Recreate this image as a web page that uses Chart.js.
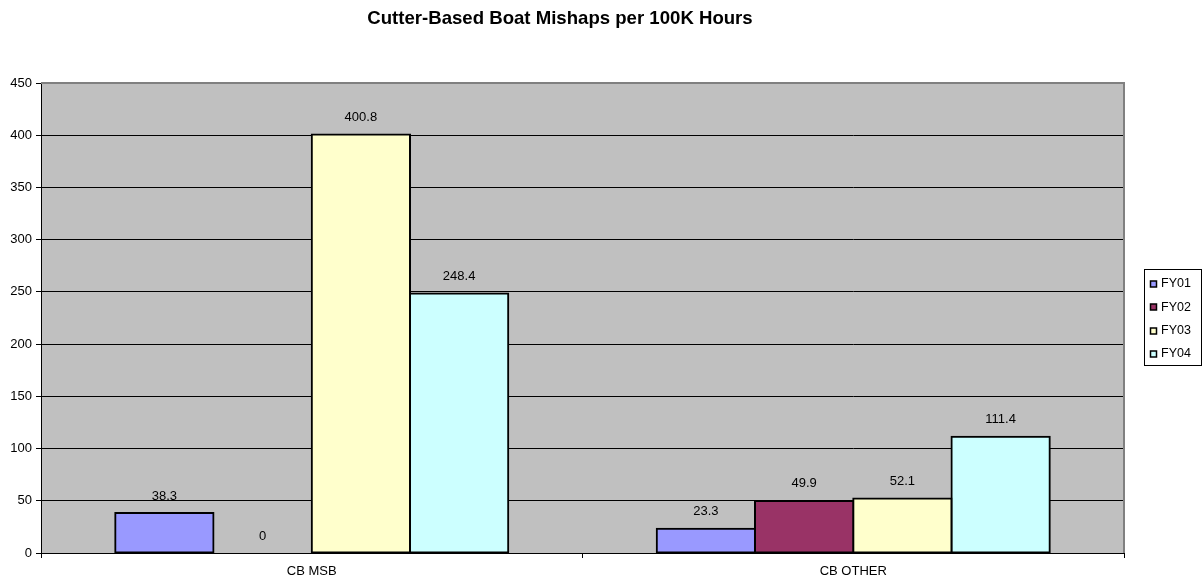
<!DOCTYPE html>
<html>
<head>
<meta charset="utf-8">
<script src="https://cdn.jsdelivr.net/npm/chart.js@4/dist/chart.umd.min.js"></script>
<style>
  html, body { margin: 0; padding: 0; background: #ffffff; }
  #wrap { width: 1202px; height: 582px; }
</style>
</head>
<body>
<div id="wrap"><canvas id="c" width="1202" height="582"></canvas></div>
<script>
const chartTitle = 'Cutter-Based Boat Mishaps per 100K Hours';
const categories = ['CB MSB', 'CB OTHER'];
const seriesNames = ['FY01', 'FY02', 'FY03', 'FY04'];
const fy01 = [38.3, 23.3];
const fy02 = [0, 49.9];
const fy03 = [400.8, 52.1];
const fy04 = [248.4, 111.4];
const seriesColors = ['#9999FF', '#993366', '#FFFFCC', '#CCFFFF'];
const yMin = 0, yMax = 450, yStep = 50;

const FONT = '"Liberation Sans", Arial, sans-serif';
const seriesValues = [fy01, fy02, fy03, fy04];

// Gray plot background plus the light frame on the top and right edges
const plotFrame = {
  id: 'plotFrame',
  beforeDraw(chart) {
    const a = chart.chartArea, ctx = chart.ctx;
    ctx.save();
    ctx.fillStyle = '#C0C0C0';
    ctx.fillRect(a.left, a.top, a.right - a.left, a.bottom - a.top);
    ctx.restore();
  },
  afterDatasetsDraw(chart) {
    const a = chart.chartArea, ctx = chart.ctx;
    ctx.save();
    ctx.strokeStyle = '#808080';
    ctx.lineWidth = 2;
    ctx.beginPath();
    ctx.moveTo(a.left, a.top);
    ctx.lineTo(a.right, a.top);
    ctx.lineTo(a.right, a.bottom);
    ctx.stroke();
    ctx.restore();
  }
};

// Value labels above each bar
const valueLabels = {
  id: 'valueLabels',
  afterDatasetsDraw(chart) {
    const ctx = chart.ctx;
    ctx.save();
    ctx.font = '13px ' + FONT;
    ctx.fillStyle = '#000000';
    ctx.textAlign = 'center';
    ctx.textBaseline = 'middle';
    chart.data.datasets.forEach((ds, i) => {
      chart.getDatasetMeta(i).data.forEach((bar, j) => {
        ctx.fillText(String(ds.data[j]), bar.x, bar.y - 17);
      });
    });
    ctx.restore();
  }
};

// Title and boxed legend on the right
const chrome = {
  id: 'chrome',
  afterDraw(chart) {
    const ctx = chart.ctx;
    ctx.save();
    ctx.font = 'bold 18.6px ' + FONT;
    ctx.fillStyle = '#000000';
    ctx.textAlign = 'center';
    ctx.textBaseline = 'alphabetic';
    ctx.fillText(chartTitle, 560, 24);

    const lx = 1144.5, ly = 269.5, lw = 57, lh = 96;
    ctx.fillStyle = '#ffffff';
    ctx.fillRect(lx, ly, lw, lh);
    ctx.strokeStyle = '#000000';
    ctx.lineWidth = 1;
    ctx.strokeRect(lx, ly, lw, lh);
    ctx.font = '12.5px ' + FONT;
    ctx.textAlign = 'left';
    ctx.textBaseline = 'middle';
    chart.data.datasets.forEach((ds, i) => {
      const cy = 284 + i * 23.3;
      const sy = Math.round(cy) - 3;
      ctx.fillStyle = ds.backgroundColor;
      ctx.fillRect(1150.5, sy, 6, 6);
      ctx.strokeStyle = '#000000';
      ctx.lineWidth = 1.5;
      ctx.strokeRect(1150.5, sy, 6, 6);
      ctx.fillStyle = '#000000';
      ctx.fillText(ds.label, 1161, cy);
    });
    ctx.restore();
  }
};

new Chart(document.getElementById('c'), {
  type: 'bar',
  data: {
    labels: categories,
    datasets: seriesNames.map((name, i) => ({
      label: name,
      data: seriesValues[i],
      backgroundColor: seriesColors[i],
      borderColor: '#000000',
      borderWidth: 2,
      borderSkipped: false,
      inflateAmount: 1,
      categoryPercentage: 0.7258,
      barPercentage: 1.0
    }))
  },
  options: {
    responsive: false,
    animation: false,
    devicePixelRatio: 1,
    layout: { padding: { top: 83, right: 78, bottom: 0, left: 0 } },
    plugins: {
      legend: { display: false },
      title: { display: false },
      tooltip: { enabled: false }
    },
    scales: {
      x: {
        grid: { display: true, drawOnChartArea: false, drawTicks: true, tickLength: 5, color: '#000000', offset: true },
        border: { display: true, color: '#000000', width: 1 },
        ticks: { color: '#000000', font: { size: 13, family: FONT }, padding: 6, maxRotation: 0 },
        afterFit(scale) { scale.height = 29; }
      },
      y: {
        min: yMin,
        max: yMax,
        ticks: { stepSize: yStep, color: '#000000', font: { size: 13, family: FONT }, padding: 4 },
        grid: { color: '#000000', lineWidth: 1, tickLength: 5, drawTicks: true },
        border: { display: true, color: '#000000', width: 1 },
        afterFit(scale) { scale.width = 41; }
      }
    }
  },
  plugins: [plotFrame, valueLabels, chrome]
});
</script>
</body>
</html>
